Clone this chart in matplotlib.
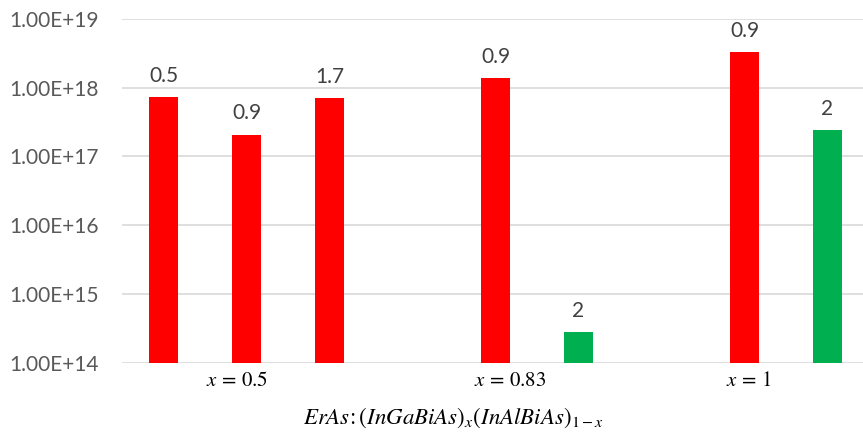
import matplotlib
matplotlib.use("Agg")
import matplotlib.pyplot as plt
import matplotlib.transforms as mtransforms

# bar slots (gaps between groups), values and labels
slots = [0, 1, 2, 4, 5, 7, 8]
values = [7.2e17, 2.07e17, 7.0e17, 1.38e18, 2.75e14, 3.28e18, 2.42e17]
bar_labels = ["0.5", "0.9", "1.7", "0.9", "2", "0.9", "2"]
bar_colors = ["#FF0000", "#FF0000", "#FF0000", "#FF0000", "#00B050", "#FF0000", "#00B050"]

group_labels = [r"$x\,=\,0.5$", r"$x\,=\,0.83$", r"$x\,=\,1$"]
group_pos = [0.89, 4.18, 7.05]

yticks = [1e14, 1e15, 1e16, 1e17, 1e18, 1e19]
ytick_labels = ["1.00E+14", "1.00E+15", "1.00E+16", "1.00E+17", "1.00E+18", "1.00E+19"]

plt.rcParams['font.family'] = ['Lato', 'DejaVu Sans']
plt.rcParams['mathtext.fontset'] = 'stix'

fig = plt.figure(figsize=(8.63, 4.34), dpi=100)
ax = fig.add_axes([122/863, 0.1643, 741/863, 0.7926])

ax.bar(slots, values, width=0.34, color=bar_colors, bottom=0, zorder=3)
ax.set_yscale('log')
ax.set_ylim(1e14, 1e19)
ax.set_xlim(-0.5, -0.5 + 741/83)

for s, v, lab in zip(slots, values, bar_labels):
    ax.annotate(lab, (s, v), xytext=(0, 8), textcoords='offset points',
                ha='center', va='bottom', fontsize=15, color='#404040')

ax.set_yticks(yticks)
ax.set_yticklabels(ytick_labels)
ax.minorticks_off()
ax.tick_params(axis='y', length=0, pad=17, labelsize=15, labelcolor='#595959')
ax.set_xticks([])
ax.grid(axis='y', color='#D9D9D9', linewidth=1.2, zorder=0)
for sp in ax.spines.values():
    sp.set_visible(False)

trans = mtransforms.blended_transform_factory(ax.transData, fig.transFigure)
for p, lab in zip(group_pos, group_labels):
    ax.text(p, 1 - 380/434, lab, transform=trans, ha='center', va='center', fontsize=15, color='black')

fig.text(453/863, 1 - 418/434, r"$ErAs\!:(InGaBiAs)_x(InAlBiAs)_{1-x}$",
         ha='center', va='center', fontsize=16.5, color='black')

fig.savefig("out.png", dpi=100)
